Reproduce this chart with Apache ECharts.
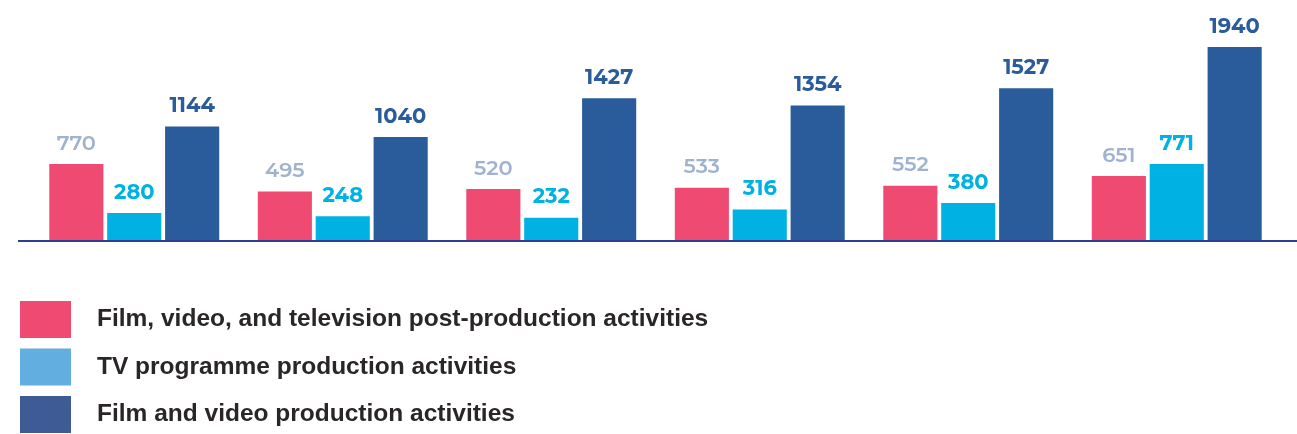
<!DOCTYPE html>
<html><head><meta charset="utf-8">
<script src="https://cdn.jsdelivr.net/npm/echarts@6/dist/echarts.min.js"></script>
<style>html,body{margin:0;padding:0;background:#fff}#c{width:1297px;height:434px}</style>
</head><body><div id="c"></div>
<script>
const categories = ['G1','G2','G3','G4','G5','G6'];
const seriesNames = ['Film, video, and television post-production activities','TV programme production activities','Film and video production activities'];
const postProduction = [770, 495, 520, 533, 552, 651];
const tvProgramme = [280, 248, 232, 316, 380, 771];
const filmVideo = [1144, 1040, 1427, 1354, 1527, 1940];

const barColors = ['#ef4a71', '#00b2e3', '#2a5b9b'];
const legendColors = ['#ef4a71', '#62aee0', '#3f5b96'];
const labelColors = ['#9fb3cf', '#00b2e3', '#2a5b9b'];
const labelWeights = ['600', 'bold', 'bold'];
const dataSets = [postProduction, tvProgramme, filmVideo];

const chart = echarts.init(document.getElementById('c'));
const option = {
  animation: false,
  grid: { left: 30, right: 16, top: 41, bottom: 193 },
  xAxis: { type: 'category', data: categories, axisLine: { show: false }, axisTick: { show: false }, axisLabel: { show: false } },
  yAxis: { type: 'value', min: 0, max: 2000, show: false, splitLine: { show: false } },
  legend: {
    orient: 'vertical', left: 20, top: 301, padding: 0, itemWidth: 51, itemHeight: 37, itemGap: 10.5,
    icon: 'rect', selectedMode: false, height: 200,
    textStyle: { fontFamily: 'Liberation Sans, Arial, sans-serif', fontSize: 24.5, fontWeight: 'bold', color: '#2a2627', padding: [0, 0, 0, 21] },
    data: seriesNames.map((n, i) => ({ name: n, itemStyle: { color: legendColors[i] } }))
  },
  series: dataSets.map((d, i) => ({
    name: seriesNames[i], type: 'bar', data: d,
    barGap: '7%', barCategoryGap: '18.5%',
    itemStyle: { color: barColors[i] },
    label: { show: true, position: 'top', distance: 10, color: labelColors[i], fontFamily: 'Montserrat, Lato, sans-serif', fontSize: 21, fontWeight: labelWeights[i] }
  }))
};
chart.setOption(option);
const y0 = chart.convertToPixel({ gridIndex: 0 }, [0, 0])[1];
chart.setOption({ graphic: [{ type: 'line', shape: { x1: 18, y1: y0, x2: 1297, y2: y0 }, style: { stroke: '#2e3f8f', lineWidth: 2 }, z: 10 }] });
</script></body></html>
